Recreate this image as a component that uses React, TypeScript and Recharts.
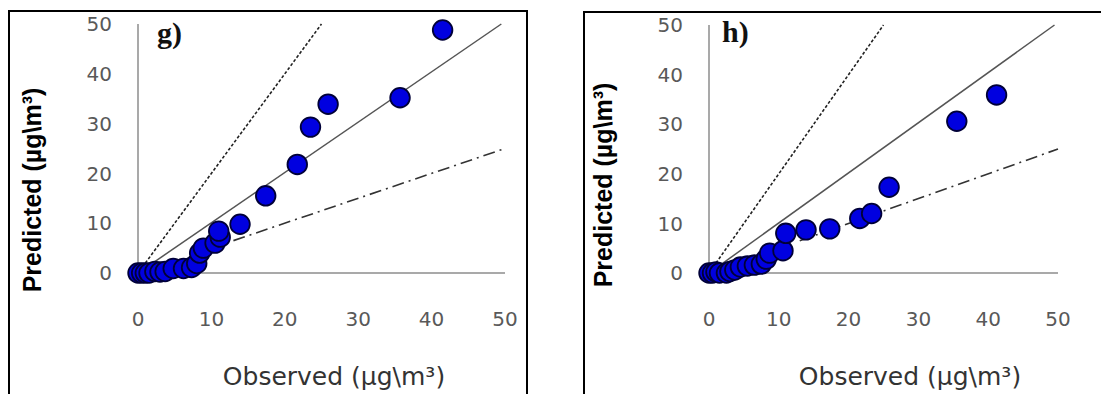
import React from 'react';
import { ScatterChart, Scatter, XAxis, YAxis, ReferenceLine } from 'recharts';

const axisTicks = [0, 10, 20, 30, 40, 50];

// panel g)
const observedG = [0, 0.5, 1, 1.5, 2.3, 3, 3.7, 4.8, 6.2, 7.3, 8, 8.4, 8.9, 10.5, 11.2, 11, 13.9, 17.4, 21.7, 23.5, 25.9, 35.7, 41.5];
const predictedG = [0, 0, 0, 0, 0.3, 0.2, 0.3, 0.9, 0.9, 1.1, 1.9, 4, 5, 6, 7.2, 8.4, 9.8, 15.5, 21.8, 29.3, 33.9, 35.2, 48.8];

// panel h)
const observedH = [0, 0.5, 1, 1.5, 2.5, 3, 3.7, 4.5, 5.5, 6.5, 7.5, 8.2, 8.7, 10.6, 11, 13.9, 17.3, 21.6, 23.3, 25.8, 35.5, 41.2];
const predictedH = [0, 0, 0.2, 0, 0, 0.3, 0.6, 1.2, 1.4, 1.6, 1.8, 2.8, 4, 4.5, 8, 8.7, 8.9, 11, 12, 17.3, 30.6, 35.9];

// guide lines: factor 2, 1:1, factor 0.5
const lineTwice = [{ x: 1, y: 2 }, { x: 25, y: 50 }];
const lineEqual = [{ x: 2, y: 2 }, { x: 49.5, y: 50 }];
const lineHalf = [{ x: 13, y: 6.5 }, { x: 50, y: 25 }];

const zip = (xs: number[], ys: number[]) => xs.map((x, i) => ({ x, y: ys[i] }));

const tickStyle = { fill: '#595959', fontSize: 20, fontFamily: 'DejaVu Sans' };

const Dot = (p: any) => (
  <circle cx={p.cx} cy={p.cy} r={9.8} fill="#0000e0" stroke="#000038" strokeWidth={1.8} />
);

interface PanelProps {
  data: { x: number; y: number }[];
  letter: string;
  chartLeft: number;
  chartWidth: number;
  margin: { top: number; right: number; bottom: number; left: number };
  boxLeft: number;
  boxTop: number;
  boxWidth: number;
  letterPos: [number, number];
  yTitlePos: [number, number];
  xTitlePos: [number, number];
}

function Panel(props: PanelProps) {
  const { data, letter, chartLeft, chartWidth, margin, boxLeft, boxTop, boxWidth, letterPos, yTitlePos, xTitlePos } = props;
  return (
    <>
      <div
        style={{
          position: 'absolute',
          left: boxLeft,
          top: boxTop,
          width: boxWidth,
          height: 420,
          border: '2px solid #000',
          boxSizing: 'border-box',
        }}
      />
      <div style={{ position: 'absolute', left: chartLeft, top: 0 }}>
        <ScatterChart width={chartWidth} height={394} margin={margin}>
          <XAxis
            type="number"
            dataKey="x"
            domain={[0, 50]}
            ticks={axisTicks}
            height={60}
            axisLine={{ stroke: '#8c8c8c', strokeWidth: 1.5 }}
            tickLine={false}
            tickSize={6}
            tickMargin={33}
            tick={tickStyle}
          />
          <YAxis
            type="number"
            dataKey="y"
            domain={[0, 50]}
            ticks={axisTicks}
            width={40}
            axisLine={{ stroke: '#8c8c8c', strokeWidth: 1.5 }}
            tickLine={false}
            tickSize={6}
            tickMargin={20}
            tick={tickStyle}
          />
          <ReferenceLine segment={lineTwice} stroke="#222" strokeWidth={1.6} strokeDasharray="3 2" ifOverflow="visible" />
          <ReferenceLine segment={lineEqual} stroke="#555" strokeWidth={1.5} ifOverflow="visible" />
          <ReferenceLine segment={lineHalf} stroke="#333" strokeWidth={1.6} strokeDasharray="12 5 2 5" ifOverflow="visible" />
          <Scatter data={data} shape={Dot} isAnimationActive={false} />
        </ScatterChart>
      </div>
      <div
        style={{
          position: 'absolute',
          left: letterPos[0],
          top: letterPos[1],
          fontFamily: 'Liberation Serif',
          fontWeight: 'bold',
          fontSize: 30,
          lineHeight: '30px',
          color: '#111',
        }}
      >
        {letter}
      </div>
      <div
        style={{
          position: 'absolute',
          left: yTitlePos[0],
          top: yTitlePos[1],
          transform: 'translate(-50%, -50%) rotate(-90deg)',
          whiteSpace: 'nowrap',
          fontFamily: 'Liberation Sans',
          fontWeight: 'bold',
          fontSize: 25,
          lineHeight: '25px',
          color: '#000',
        }}
      >
        {'Predicted (µg\\m³)'}
      </div>
      <div
        style={{
          position: 'absolute',
          left: xTitlePos[0],
          top: xTitlePos[1],
          transform: 'translate(-50%, -50%)',
          whiteSpace: 'nowrap',
          fontFamily: 'DejaVu Sans',
          fontSize: 25,
          lineHeight: '25px',
          color: '#333',
        }}
      >
        {'Observed (µg\\m³)'}
      </div>
    </>
  );
}

export default function App() {
  return (
    <div
      style={{
        position: 'absolute',
        left: 0,
        top: 0,
        width: 1101,
        height: 394,
        overflow: 'hidden',
        background: '#fff',
      }}
    >
      <Panel
        data={zip(observedG, predictedG)}
        letter="g)"
        chartLeft={0}
        chartWidth={540}
        margin={{ top: 24, right: 35, bottom: 61, left: 98 }}
        boxLeft={8}
        boxTop={10}
        boxWidth={520}
        letterPos={[157, 18]}
        yTitlePos={[32, 190]}
        xTitlePos={[334, 376]}
      />
      <Panel
        data={zip(observedH, predictedH)}
        letter="h)"
        chartLeft={560}
        chartWidth={541}
        margin={{ top: 25, right: 43, bottom: 61, left: 109 }}
        boxLeft={583}
        boxTop={11}
        boxWidth={600}
        letterPos={[722, 17]}
        yTitlePos={[603, 185]}
        xTitlePos={[910, 376]}
      />
    </div>
  );
}
